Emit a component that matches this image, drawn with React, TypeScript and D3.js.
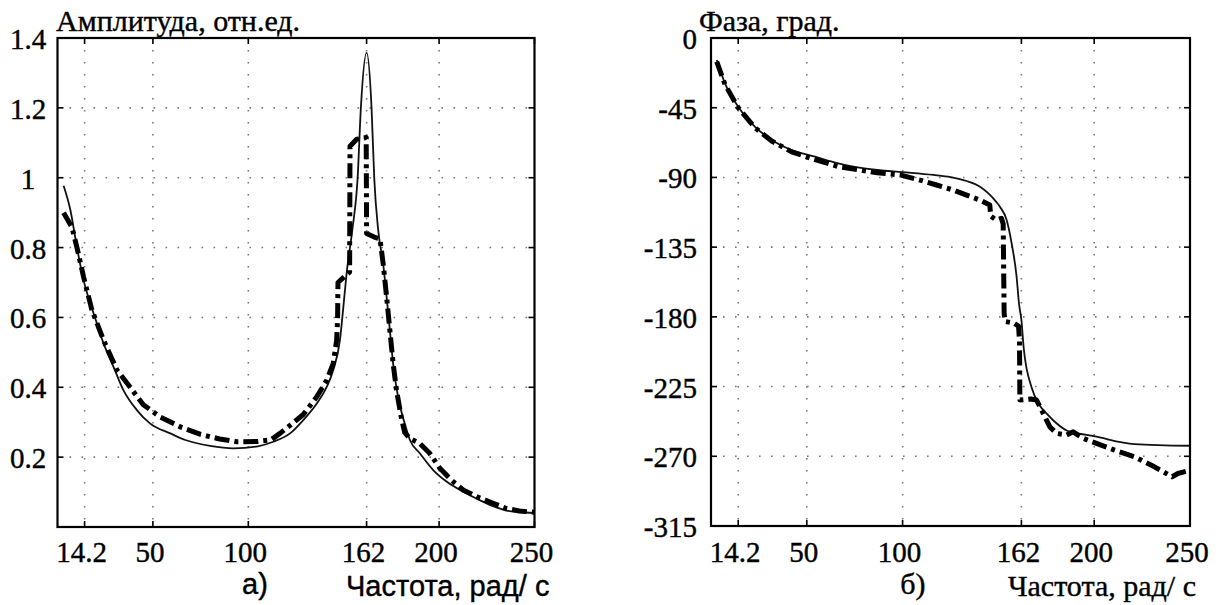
import React from "react";
import * as d3 from "d3";

// ---------- data ----------
const xTicks = [14.2, 50, 100, 162, 200, 250];
const ampTicks = [0.2, 0.4, 0.6, 0.8, 1, 1.2, 1.4];
const ampTickLabels = ["0.2", "0.4", "0.6", "0.8", "1", "1.2", "1.4"];
const phaseTicks = [0, -45, -90, -135, -180, -225, -270, -315];
const phaseTickLabels = ["0", "-45", "-90", "-135", "-180", "-225", "-270", "-315"];

// amplitude, solid (model)
const ampSolidX = [3.2, 6.8, 10.2, 13.7, 17.2, 19.8, 24.2, 29.4, 34.6, 41.7, 48.6, 59.1, 67, 80, 92.2, 105, 113.1, 121.9, 128.8, 135.8, 141.1, 144.5, 148, 149.8, 151.5, 154.5, 157.3, 159, 162, 164.6, 166, 168.1, 170.7, 172.5, 174.2, 175.9, 178.5, 182, 184.7, 189.9, 196.9, 203.9, 212.6, 221.3, 230, 235.3, 242, 250];
const ampSolidY = [0.977, 0.906, 0.8, 0.706, 0.64, 0.597, 0.525, 0.458, 0.391, 0.334, 0.296, 0.268, 0.249, 0.232, 0.225, 0.231, 0.244, 0.268, 0.306, 0.353, 0.401, 0.449, 0.534, 0.629, 0.725, 0.85, 1.0, 1.2, 1.358, 1.2, 1.0, 0.849, 0.753, 0.658, 0.563, 0.468, 0.372, 0.296, 0.249, 0.211, 0.163, 0.13, 0.101, 0.077, 0.056, 0.047, 0.043, 0.04];

// amplitude, dash-dot (measured)
const ampDashX = [3.2, 7.6, 10.2, 13.7, 18.1, 24.2, 31.2, 38.1, 45, 53.8, 65, 75, 85, 94, 105, 112, 116.6, 121.9, 128.8, 135.8, 141.1, 144.5, 146.3, 146.8, 147, 151, 153.1, 153.3, 156.8, 161.8, 162, 166, 169, 170.7, 172.5, 174.2, 175.9, 177.7, 180.3, 182, 184.7, 189.9, 195.1, 200.4, 206.5, 212.6, 219.6, 228.3, 235.3, 242, 250];
const ampDashY = [0.9, 0.858, 0.8, 0.715, 0.62, 0.534, 0.449, 0.4, 0.35, 0.315, 0.285, 0.265, 0.252, 0.244, 0.245, 0.25, 0.268, 0.291, 0.322, 0.372, 0.42, 0.468, 0.534, 0.6, 0.7, 0.72, 0.73, 1.09, 1.11, 1.115, 0.84, 0.83, 0.825, 0.753, 0.658, 0.563, 0.468, 0.391, 0.31, 0.27, 0.253, 0.239, 0.211, 0.168, 0.134, 0.106, 0.087, 0.068, 0.053, 0.046, 0.042];

// phase, solid (model)
const phSolidX = [3.0, 7.3, 14.2, 23, 31.7, 42.1, 54.3, 66.4, 86.7, 100, 116, 125, 133.4, 140.4, 144.5, 148, 150.8, 154.3, 156.9, 159.5, 160.8, 162, 163.2, 167.3, 171.5, 175.1, 180.3, 185.9, 189, 199.8, 221, 250];
const phSolidY = [-14.2, -29.3, -44.3, -57.3, -65.8, -72.3, -76.6, -80.9, -85.2, -86.6, -88.4, -89.8, -92.3, -96, -100, -104.5, -108.9, -117.5, -132.5, -154.1, -172, -182, -200.1, -225.5, -237, -242.3, -248.7, -253.5, -254.5, -257, -262.1, -263.2];

// phase, dash-dot (measured)
const phDashX = [3.0, 7.3, 14.2, 23, 31.7, 42.1, 54.3, 66.4, 86.7, 98.6, 109, 117.7, 126.4, 133.4, 140.3, 145.5, 146, 149, 151.6, 152.5, 153, 153.5, 158, 160.5, 161, 161.2, 167, 169.9, 173.4, 176.8, 180.3, 185.5, 189, 194.2, 201.2, 210.7, 221, 231.4, 240.7, 243.7, 250];
const phDashY = [-15.3, -30, -45, -58, -66.5, -73.5, -78.5, -83, -87, -88.4, -91.7, -94.9, -98.1, -101.4, -104.6, -107.8, -115, -117.5, -116.4, -120, -178, -183, -184, -186, -195, -233.7, -233, -233.7, -242.3, -250.9, -255.2, -256.3, -254.2, -258.4, -261.7, -266, -270.3, -276.8, -283.2, -281.1, -279];

const zip = (xs: number[], ys: number[]) => xs.map((x, i) => [x, ys[i]] as [number, number]);

type PanelProps = {
  left: number; right: number; top: number; bottom: number;
  yDomain: [number, number];
  yTicks: number[]; yLabels: string[];
  yLabelX: number; yAnchor: "end" | "middle";
  solid: [number, number][]; dash: [number, number][];
  title: string; titleX: number;
  letter: string; letterX: number;
  xTitleX: number; xTitleSerif: boolean; xTitleSize: number;
};

const INK = { fill: "#000", stroke: "#000", strokeWidth: 0.4 };

function Panel(p: PanelProps) {
  const x = d3.scaleLinear().domain([0, 250]).range([p.left, p.right]);
  const y = d3.scaleLinear().domain(p.yDomain).range([p.bottom, p.top]);
  const lineSolid = d3.line<[number, number]>().x(d => x(d[0])).y(d => y(d[1])).curve(d3.curveMonotoneX);
  const lineDash = d3.line<[number, number]>().x(d => x(d[0])).y(d => y(d[1])).curve(d3.curveLinear);
  const tl = 6;
  const gridY = p.yTicks.filter(t => t !== p.yDomain[0] && t !== p.yDomain[1]);
  const xtFont = p.xTitleSerif ? "Liberation Serif" : "Liberation Sans";
  return (
    <g>
      {xTicks.filter(t => t !== 250).map(t => (
        <line key={"gx" + t} x1={x(t)} x2={x(t)} y1={p.top} y2={p.bottom}
          stroke="#777" strokeWidth={1.6} strokeDasharray="1.6 10.4" />
      ))}
      {gridY.map(t => (
        <line key={"gy" + t} x1={p.left} x2={p.right} y1={y(t)} y2={y(t)}
          stroke="#777" strokeWidth={1.6} strokeDasharray="1.6 10.4" />
      ))}
      {xTicks.map(t => (
        <g key={"tx" + t}>
          <line x1={x(t)} x2={x(t)} y1={p.bottom} y2={p.bottom - tl} stroke="#000" strokeWidth={1.6} />
          <line x1={x(t)} x2={x(t)} y1={p.top} y2={p.top + tl} stroke="#000" strokeWidth={1.6} />
        </g>
      ))}
      {p.yTicks.map(t => (
        <g key={"ty" + t}>
          <line x1={p.left} x2={p.left + tl} y1={y(t)} y2={y(t)} stroke="#000" strokeWidth={1.6} />
          <line x1={p.right} x2={p.right - tl} y1={y(t)} y2={y(t)} stroke="#000" strokeWidth={1.6} />
        </g>
      ))}
      <path d={lineSolid(p.solid) || ""} fill="none" stroke="#111" strokeWidth={1.8} />
      <path d={lineDash(p.dash) || ""} fill="none" stroke="#000" strokeWidth={5}
        strokeDasharray="15 5 4 5" strokeLinejoin="round" />
      <rect x={p.left} y={p.top} width={p.right - p.left} height={p.bottom - p.top}
        fill="none" stroke="#000" strokeWidth={2.2} />
      {p.yTicks.map((t, i) => (
        <text key={"yl" + t} x={p.yLabelX} y={y(t) + 11} textAnchor={p.yAnchor}
          fontFamily="Liberation Serif" fontSize={29} {...INK}>{p.yLabels[i]}</text>
      ))}
      {xTicks.map(t => (
        <text key={"xl" + t} x={x(t) - 3} y={562} textAnchor="middle"
          fontFamily="Liberation Serif" fontSize={29} {...INK}>{String(t)}</text>
      ))}
      <text x={p.titleX} y={31} fontFamily="Liberation Serif" fontSize={30} {...INK}>{p.title}</text>
      <text x={p.letterX} y={594} textAnchor="middle" fontFamily={xtFont} fontSize={p.xTitleSize} {...INK}>{p.letter}</text>
      <text x={p.xTitleX} y={596} fontFamily={xtFont} fontSize={p.xTitleSize} {...INK}>Частота, рад/ с</text>
    </g>
  );
}

export default function App() {
  return (
    <svg width={1221} height={605} viewBox="0 0 1221 605"
      style={{ position: "absolute", left: 0, top: 0, background: "#fff" }}>
      <rect x={0} y={0} width={1221} height={605} fill="#fff" />
      <Panel left={57.5} right={534.5} top={38} bottom={527} yDomain={[0, 1.4]}
        yTicks={ampTicks} yLabels={ampTickLabels} yLabelX={28} yAnchor="middle"
        solid={zip(ampSolidX, ampSolidY)} dash={zip(ampDashX, ampDashY)}
        title="Амплитуда, отн.ед." titleX={56} letter="а)" letterX={255}
        xTitleX={346} xTitleSerif={false} xTitleSize={29} />
      <Panel left={711} right={1190} top={38} bottom={526} yDomain={[-315, 0]}
        yTicks={phaseTicks} yLabels={phaseTickLabels} yLabelX={697} yAnchor="end"
        solid={zip(phSolidX, phSolidY)} dash={zip(phDashX, phDashY)}
        title="Фаза, град." titleX={699} letter="б)" letterX={913}
        xTitleX={1008} xTitleSerif={true} xTitleSize={30} />
    </svg>
  );
}
